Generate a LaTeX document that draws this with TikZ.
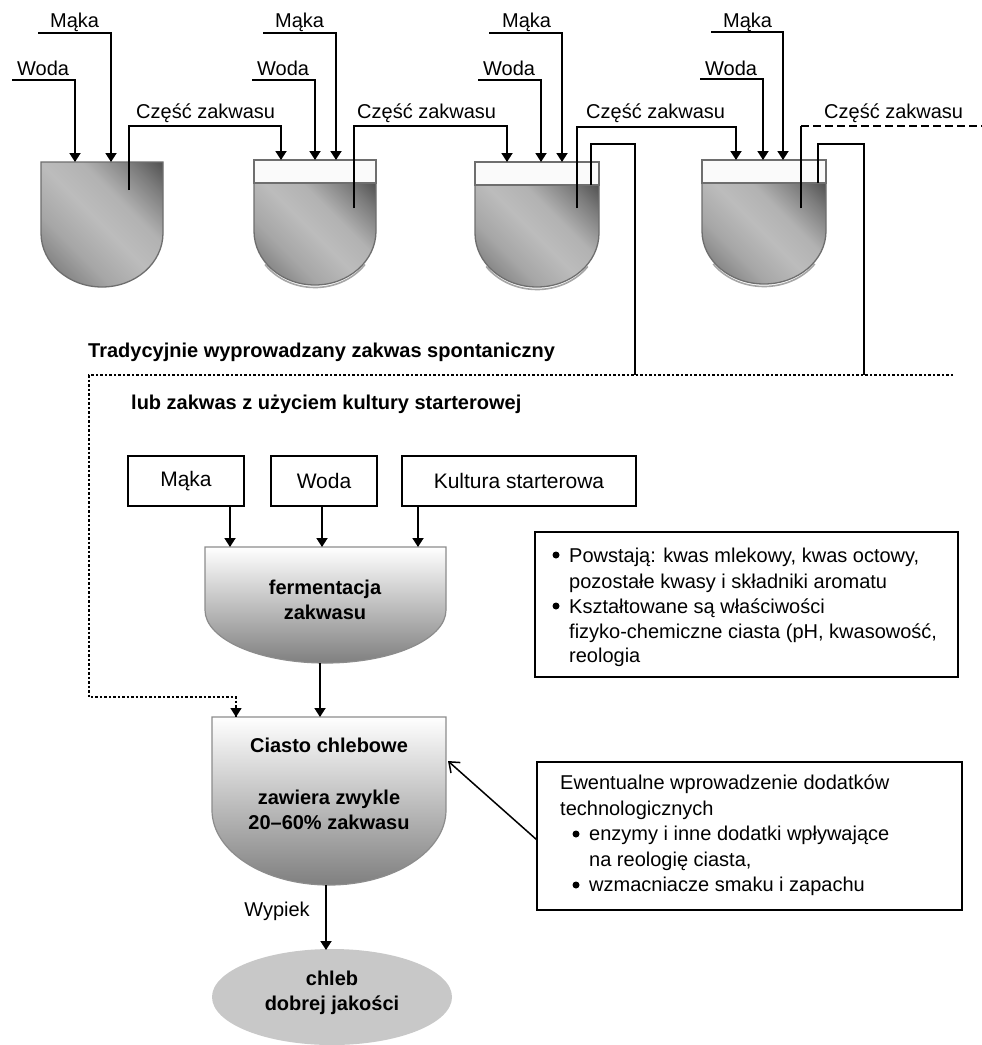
\documentclass[tikz,border=0pt]{standalone}
\usepackage{fontspec}
\setmainfont{Liberation Sans}
\usetikzlibrary{arrows.meta,calc,shapes.geometric}
\definecolor{tkA}{HTML}{5C5C5C}
\definecolor{tkB}{HTML}{6A6A6A}
\definecolor{tkC}{HTML}{A6A6A6}
\definecolor{tkD}{HTML}{BCBCBC}
\definecolor{tkE}{HTML}{B2B2B2}
\definecolor{tkF}{HTML}{7C7C7C}
\definecolor{tkG}{HTML}{4A4A4A}
\definecolor{edgegray}{HTML}{6E6E6E}
\definecolor{bandfill}{HTML}{FAFAFA}
\definecolor{breadfill}{HTML}{C8C8C8}
\pgfdeclarehorizontalshading{tankshade}{100bp}{color(0bp)=(tkA); color(15bp)=(tkB); color(35bp)=(tkC); color(50bp)=(tkD); color(62bp)=(tkE); color(76bp)=(tkF); color(87bp)=(tkG); color(100bp)=(tkG)}
\begin{document}
\begin{tikzpicture}[x=1pt,y=-1pt,
  lbl/.style={font=\fontsize{20}{25}\selectfont, inner sep=0pt},
  blbl/.style={font=\fontsize{20}{25}\selectfont\bfseries, inner sep=0pt, align=center},
  conn/.style={line width=1.8pt},
  arr/.style={conn, -{Triangle[length=9pt,width=11pt]}},
  dotline/.style={line width=1.5pt, dash pattern=on 2.5pt off 2pt},
  dashline/.style={line width=1.8pt, dash pattern=on 8pt off 4pt},
  tankedge/.style={draw=edgegray, line width=1.3pt},
  rim/.style={draw=black!35, line width=1.6pt},
  fbox/.style={draw, line width=1.8pt, inner sep=0pt, minimum height=50pt, font=\fontsize{21}{25}\selectfont},
  infobox/.style={draw, line width=1.8pt, inner sep=0pt},
  vessel/.style={draw=black!45, line width=1.2pt, top color=white, bottom color=black!50},
]
\useasboundingbox (0,0) rectangle (982,1045);
\fill[white] (0,0) rectangle (982,1045);

% ---------- tanks ----------
% tank 1
\shadedraw[tankedge, shading=tankshade, shading angle=45]
  (41,162) -- (163,162) -- (163,233) arc[start angle=0, end angle=-180, x radius=61pt, y radius=54pt] -- cycle;
% tank 2
\draw[rim] ($(315,233.5)+(-35:61pt and 54pt)$) arc[start angle=-35, end angle=-145, x radius=61pt, y radius=54pt];
\shadedraw[tankedge, shading=tankshade, shading angle=45]
  (254,183) -- (376,183) -- (376,231) arc[start angle=0, end angle=-180, x radius=61pt, y radius=54pt] -- cycle;
\draw[tankedge, fill=bandfill] (254,160) rectangle (376,183);
% tank 3
\draw[rim] ($(537,235.5)+(-35:62pt and 54pt)$) arc[start angle=-35, end angle=-145, x radius=62pt, y radius=54pt];
\shadedraw[tankedge, shading=tankshade, shading angle=45]
  (475,185) -- (599,185) -- (599,233) arc[start angle=0, end angle=-180, x radius=62pt, y radius=54pt] -- cycle;
\draw[tankedge, fill=bandfill] (475,162) rectangle (599,185);
% tank 4
\draw[rim] ($(764,233.5)+(-35:62pt and 53pt)$) arc[start angle=-35, end angle=-145, x radius=62pt, y radius=53pt];
\shadedraw[tankedge, shading=tankshade, shading angle=45]
  (702,183) -- (826,183) -- (826,231) arc[start angle=0, end angle=-180, x radius=62pt, y radius=53pt] -- cycle;
\draw[tankedge, fill=bandfill] (702,160) rectangle (826,183);

% ---------- top labels ----------
\node[lbl, anchor=base west] (m1) at (50,27) {Mąka};
\node[lbl, anchor=base west] (w1) at (17,75) {Woda};
\node[lbl, anchor=base west] (c1) at (136,118) {Część zakwasu};
\node[lbl, anchor=base west] (m2) at (275,27) {Mąka};
\node[lbl, anchor=base west] (w2) at (257,75) {Woda};
\node[lbl, anchor=base west] (c2) at (357,118) {Część zakwasu};
\node[lbl, anchor=base west] (m3) at (502,27) {Mąka};
\node[lbl, anchor=base west] (w3) at (483,75) {Woda};
\node[lbl, anchor=base west] (c3) at (586,118) {Część zakwasu};
\node[lbl, anchor=base west] (m4) at (723,27) {Mąka};
\node[lbl, anchor=base west] (w4) at (705,75) {Woda};
\node[lbl, anchor=base west] (c4) at (824,118) {Część zakwasu};

% ---------- coordinates ----------
\coordinate (w1s) at (12,80);   \coordinate (t1w) at (75,162);
\coordinate (m1s) at (38,33);   \coordinate (t1m) at (111,162);
\coordinate (c1s) at (129,190); \coordinate (c1k) at (129,126); \coordinate (t2c) at (281,160);
\coordinate (w2s) at (252,80);  \coordinate (t2w) at (315,160);
\coordinate (m2s) at (263,33);  \coordinate (t2m) at (336,160);
\coordinate (c2s) at (354,208); \coordinate (c2k) at (354,126); \coordinate (t3c) at (507,162);
\coordinate (w3s) at (478,80);  \coordinate (t3w) at (541,162);
\coordinate (m3s) at (489,33);  \coordinate (t3m) at (562,162);
\coordinate (c3s) at (577,208); \coordinate (c3k) at (577,127); \coordinate (t4c) at (736,160);
\coordinate (w4s) at (700,79);  \coordinate (t4w) at (763,160);
\coordinate (m4s) at (711,32);  \coordinate (t4m) at (783,160);
\coordinate (c4s) at (801,208); \coordinate (c4k) at (801,126); \coordinate (c4e) at (982,126);
\coordinate (o3s) at (591,185); \coordinate (o3k) at (591,144); \coordinate (o3e) at (635,375);
\coordinate (o4s) at (818,183); \coordinate (o4k) at (818,144); \coordinate (o4e) at (864,375);
\coordinate (dR) at (953,375); \coordinate (dL) at (89,375); \coordinate (dB) at (89,697);

% ---------- top connectors ----------
\draw[arr] (w1s) -| (t1w);
\draw[arr] (m1s) -| (t1m);
\draw[arr] (c1s) -- (c1k) -| (t2c);
\draw[arr] (w2s) -| (t2w);
\draw[arr] (m2s) -| (t2m);
\draw[arr] (c2s) -- (c2k) -| (t3c);
\draw[arr] (w3s) -| (t3w);
\draw[arr] (m3s) -| (t3m);
\draw[arr] (c3s) -- (c3k) -| (t4c);
\draw[arr] (w4s) -| (t4w);
\draw[arr] (m4s) -| (t4m);
\draw[conn] (c4s) -- (c4k);
\draw[dashline] (c4k) -- (c4e);
\draw[conn] (o3s) -- (o3k) -| (o3e);
\draw[conn] (o4s) -- (o4k) -| (o4e);

% ---------- titles ----------
\node[blbl, anchor=base west] (title1) at (88,357) {Tradycyjnie wyprowadzany zakwas spontaniczny};
\node[blbl, anchor=base west] (title2) at (131,409) {lub zakwas z użyciem kultury starterowej};

% ---------- lower part ----------
\node[fbox, minimum width=116pt] (mb) at (186,481) {Mąka};
\node[fbox, minimum width=106pt] (wb) at (324,481) {Woda};
\node[fbox, minimum width=234pt] (kb) at (519,481) {Kultura starterowa};

% fermentation vessel
\path[vessel] (205,547) -- (446,547) -- (446,610) arc[start angle=0, end angle=-180, x radius=120.5pt, y radius=53pt] -- cycle;
\node[blbl] (ferm) at (325,600) {fermentacja\\zakwasu};
% dough vessel
\path[vessel] (212,717) -- (446,717) -- (446,810) arc[start angle=0, end angle=-180, x radius=117pt, y radius=75pt] -- cycle;
\node[blbl] (cia1) at (329,745) {Ciasto chlebowe};
\node[blbl] (cia2) at (329,809.5) {zawiera zwykle\\20–60\% zakwasu};
% bread
\node[ellipse, fill=breadfill, minimum width=240pt, minimum height=96pt, inner sep=0pt] (bread) at (332,997) {};
\node[blbl] (breadtxt) at (332,992.5) {chleb\\dobrej jakości};

\coordinate (fa1) at (230,547);
\coordinate (fa2) at (322,547);
\coordinate (fa3) at (418,547);
\coordinate (fo) at (320,663);
\coordinate (ci) at (320,717);
\coordinate (cd) at (236,717);
\coordinate (co) at (326,885);
\coordinate (bt) at (326,950);
\coordinate (cside) at (448,761);

\draw[arr] (mb.south -| fa1) -- (fa1);
\draw[arr] (wb.south -| fa2) -- (fa2);
\draw[arr] (kb.south -| fa3) -- (fa3);
\draw[arr] (fo) -- (ci);
\draw[arr] (co) -- (bt);
\node[lbl] (wyp) at (277,911) {Wypiek};

% dotted path
\draw[dotline] (dR) -- (dL) -- (dB) -| (cd);
\draw[-{Triangle[length=9pt,width=11pt]}, line width=1.5pt] ($(cd)+(0,-1)$) -- (cd);

% info box 1
\node[infobox, minimum width=423pt, minimum height=145pt] (info1) at (746.5,604.5) {};
\fill (556,555) circle[radius=3.5pt];
\fill (556,606) circle[radius=3.5pt];
\node[lbl, anchor=base west] (i1a) at (569,562) {Powstają: kwas mlekowy, kwas octowy,};
\node[lbl, anchor=base west] (i1b) at (569,588) {pozostałe kwasy i składniki aromatu};
\node[lbl, anchor=base west] (i1c) at (569,613) {Kształtowane są właściwości};
\node[lbl, anchor=base west] (i1d) at (569,638) {fizyko-chemiczne ciasta (pH, kwasowość,};
\node[lbl, anchor=base west] (i1e) at (569,662) {reologia};

% info box 2
\node[infobox, minimum width=425pt, minimum height=148pt] (info2) at (749.5,836) {};
\node[lbl, anchor=base west] (i2a) at (560,789) {Ewentualne wprowadzenie dodatków};
\node[lbl, anchor=base west] (i2b) at (560,815) {technologicznych};
\fill (576,834) circle[radius=3.5pt];
\fill (576,885) circle[radius=3.5pt];
\node[lbl, anchor=base west] (i2c) at (589,840) {enzymy i inne dodatki wpływające};
\node[lbl, anchor=base west] (i2d) at (589,866) {na reologię ciasta,};
\node[lbl, anchor=base west] (i2e) at (589,891) {wzmacniacze smaku i zapachu};
\coordinate (i2w) at (537,840);
\draw[line width=1.5pt, -{Straight Barb[length=9pt,width=14pt]}] (i2w) -- (cside);
\end{tikzpicture}
\end{document}
